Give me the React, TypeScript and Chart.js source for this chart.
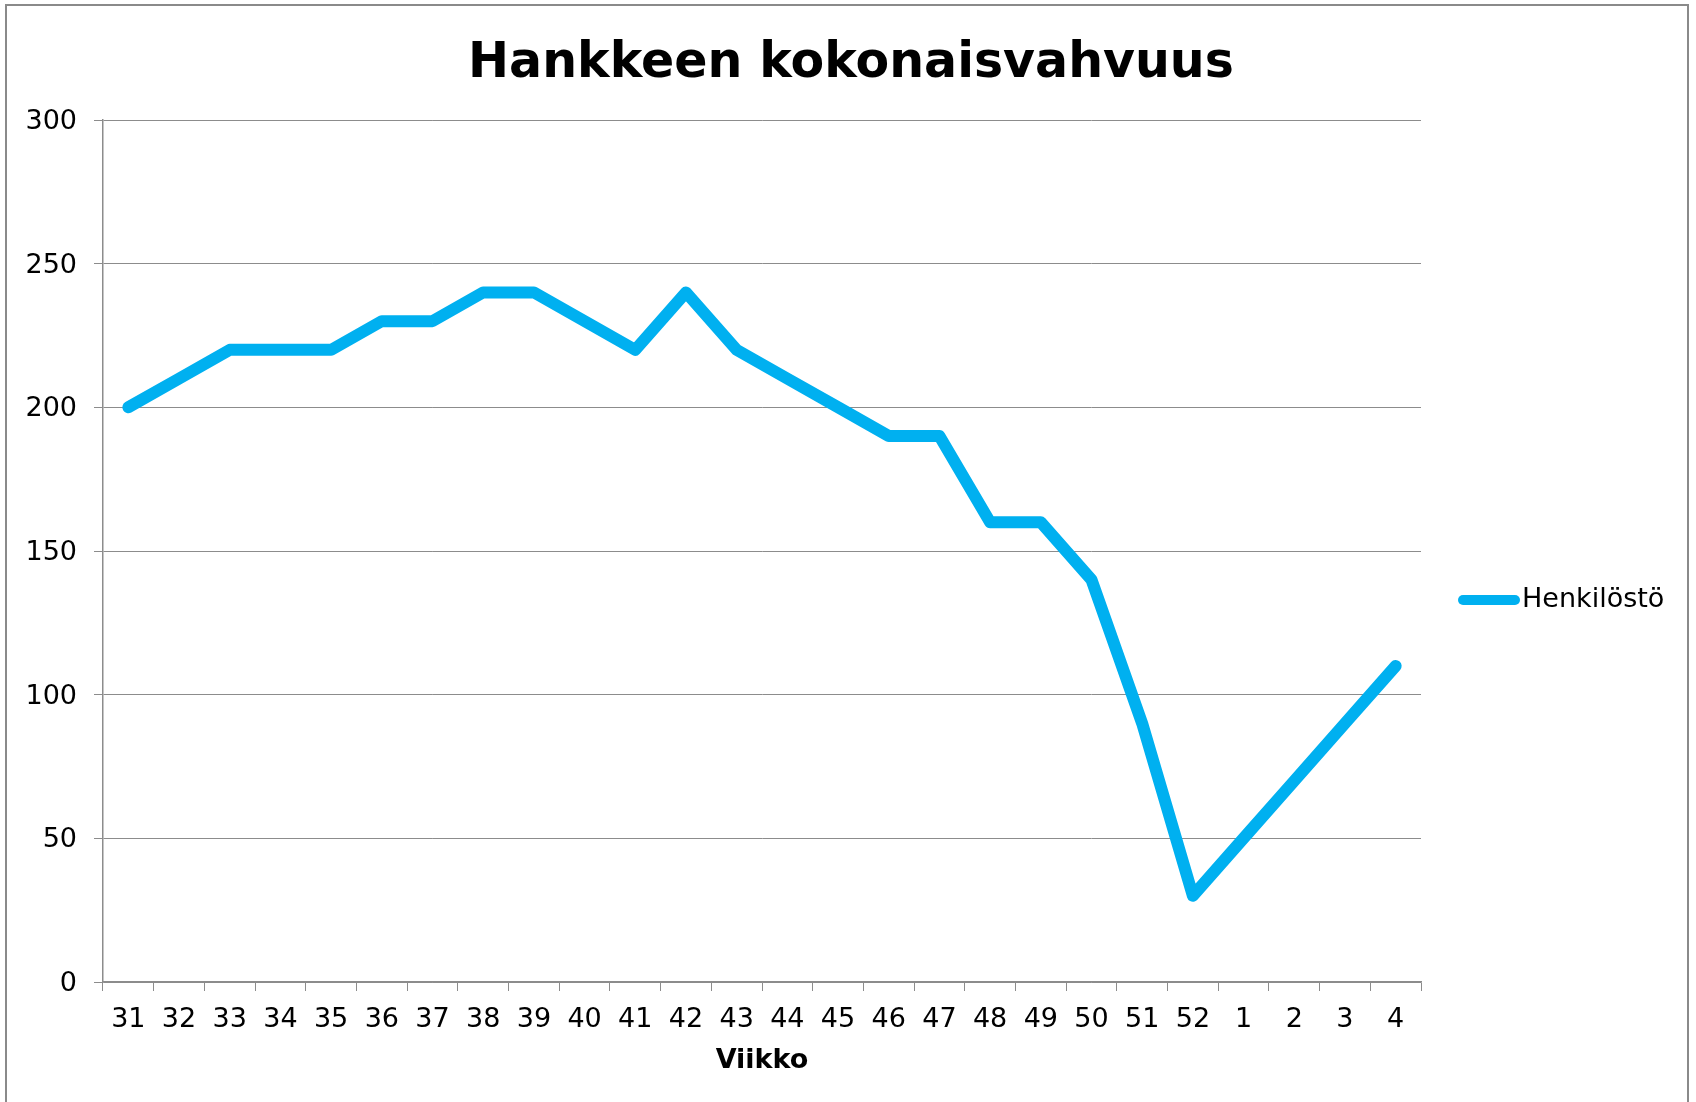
import React, { useEffect, useRef } from "react";
import { Chart, registerables } from "chart.js";

Chart.register(...registerables);

const weeks: string[] = [
  "31", "32", "33", "34", "35", "36", "37", "38", "39", "40", "41", "42", "43",
  "44", "45", "46", "47", "48", "49", "50", "51", "52", "1", "2", "3", "4",
];
const staff: number[] = [
  200, 210, 220, 220, 220, 230, 230, 240, 240, 230, 220, 240, 220,
  210, 200, 190, 190, 160, 160, 140, 90, 30, 50, 70, 90, 110,
];
const yTicks = { min: 0, max: 300, step: 50 };
const titleText = "Hankkeen kokonaisvahvuus";
const xTitle = "Viikko";
const seriesName = "Henkilöstö";

const W = 1696;
const H = 1102;
const LINE_COLOR = "#00B0F0";
const GRID_COLOR = "#8c8c8c";
const FONT = '"DejaVu Sans", Verdana, sans-serif';

const decorPlugin = {
  id: "decor",
  afterDraw(chart: any) {
    const ctx = chart.ctx;
    ctx.save();
    // Title
    ctx.fillStyle = "#000";
    ctx.font = `bold 49px ${FONT}`;
    ctx.textAlign = "center";
    ctx.textBaseline = "alphabetic";
    ctx.fillText(titleText, 851, 77);
    // Legend
    const ds = chart.data.datasets[0];
    ctx.strokeStyle = ds.borderColor;
    ctx.lineWidth = 10;
    ctx.lineCap = "round";
    ctx.beginPath();
    ctx.moveTo(1463, 600);
    ctx.lineTo(1515, 600);
    ctx.stroke();
    ctx.fillStyle = "#000";
    ctx.font = `27px ${FONT}`;
    ctx.textAlign = "left";
    ctx.textBaseline = "middle";
    ctx.fillText(ds.label, 1522, 600);
    ctx.restore();
  },
};

export default function App() {
  const ref = useRef<HTMLCanvasElement | null>(null);

  useEffect(() => {
    if (!ref.current) return;
    const chart = new Chart(ref.current, {
      type: "line",
      data: {
        labels: weeks,
        datasets: [
          {
            label: seriesName,
            data: staff,
            borderColor: LINE_COLOR,
            backgroundColor: LINE_COLOR,
            borderWidth: 12,
            borderJoinStyle: "round",
            borderCapStyle: "round",
            pointRadius: 0,
            pointHoverRadius: 0,
            tension: 0,
            fill: false,
          },
        ],
      },
      options: {
        responsive: false,
        animation: false,
        devicePixelRatio: 1,
        layout: { padding: { top: 120, left: 0, right: W - 1421, bottom: 0 } },
        plugins: {
          legend: { display: false },
          title: { display: false },
          tooltip: { enabled: false },
        },
        scales: {
          x: {
            type: "category",
            offset: true,
            afterFit: (s: any) => {
              s.height = H - 982;
            },
            grid: {
              offset: true,
              drawOnChartArea: false,
              drawTicks: true,
              tickLength: 9,
              color: GRID_COLOR,
              lineWidth: 1,
            },
            border: { display: true, color: GRID_COLOR, width: 1.5 },
            ticks: {
              color: "#000",
              font: { family: FONT, size: 27 },
              padding: 13,
              maxRotation: 0,
              autoSkip: false,
            },
            title: {
              display: true,
              text: xTitle,
              color: "#000",
              font: { family: FONT, size: 27, weight: "bold" },
              padding: { top: 0, bottom: 25 },
            },
          },
          y: {
            min: yTicks.min,
            max: yTicks.max,
            afterFit: (s: any) => {
              s.width = 103;
            },
            grid: {
              drawOnChartArea: true,
              drawTicks: true,
              tickLength: 9,
              color: GRID_COLOR,
              lineWidth: 1,
            },
            border: { display: true, color: GRID_COLOR, width: 1.5 },
            ticks: {
              stepSize: yTicks.step,
              color: "#000",
              font: { family: FONT, size: 27 },
              padding: 17,
              labelOffset: 2,
            },
          },
        },
      },
      plugins: [decorPlugin],
    });
    return () => chart.destroy();
  }, []);

  return (
    <div
      style={{
        position: "absolute",
        left: 0,
        top: 0,
        width: W,
        height: H,
        overflow: "hidden",
        background: "#fff",
      }}
    >
      <div
        style={{
          position: "absolute",
          left: 5,
          top: 4,
          width: 1692 - 5 - 3,
          height: H + 20,
          border: "2px solid #8a8a8a",
          boxSizing: "border-box",
        }}
      />
      <canvas
        ref={ref}
        width={W}
        height={H}
        style={{ position: "absolute", left: 0, top: 0, width: W, height: H }}
      />
    </div>
  );
}
